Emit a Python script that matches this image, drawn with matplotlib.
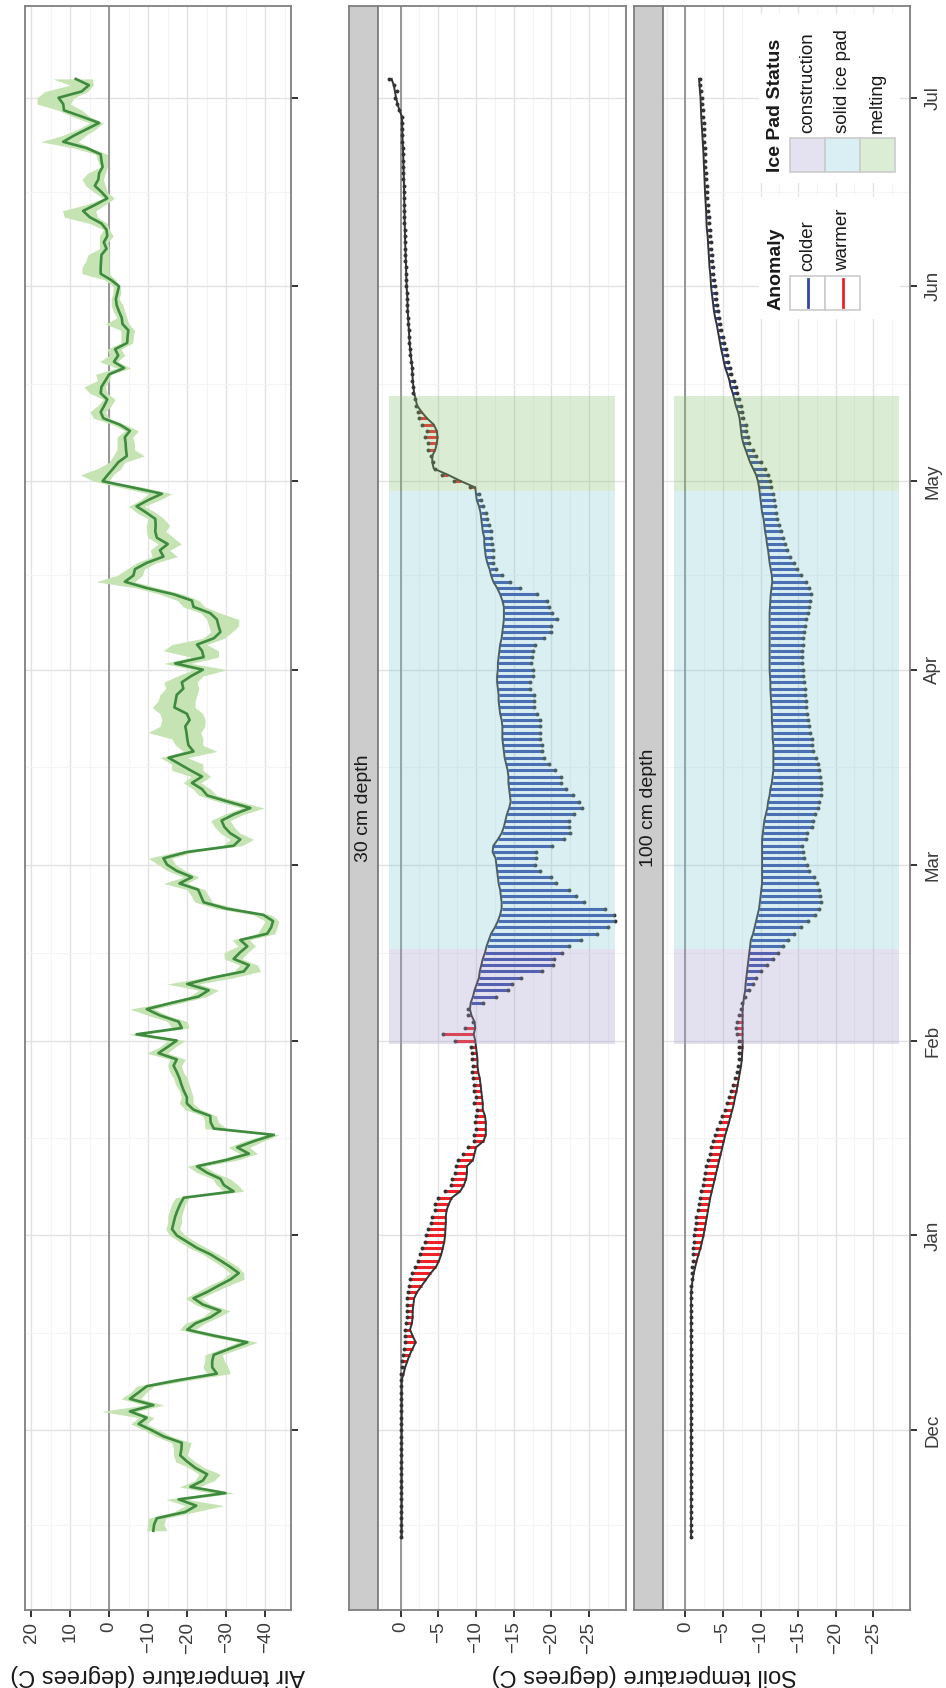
import numpy as np
import matplotlib
matplotlib.use("Agg")
import matplotlib.pyplot as plt
import matplotlib.dates as mdates
from matplotlib.collections import LineCollection
from matplotlib.colors import to_rgb
from matplotlib.patches import Rectangle
from matplotlib.lines import Line2D
from matplotlib.ticker import MultipleLocator, FixedLocator

plt.rcParams['font.family'] = ['Liberation Sans', 'DejaVu Sans']

# first day of each daily series
soil_start = '2013-11-14'
air_start = '2013-11-15'

# air temperature: daily mean with low/high band
air_mean = [
    -11.3, -11.5, -12.2, -19.5, -22.3, -17.8, -29.8, -20.8, -24.0, -25.1,
    -22.1, -20.0, -18.2, -18.5, -18.6, -14.0, -10.9, -7.5, -9.6, -5.3,
    -11.3, -5.3, -7.5, -9.6, -18.0, -27.6, -26.4, -26.4, -26.8, -31.0,
    -35.4, -27.2, -20.0, -22.1, -26.0, -28.5, -24.0, -21.6, -25.1, -28.0,
    -31.1, -33.2, -31.0, -28.5, -25.9, -22.5, -19.9, -17.3, -16.1, -16.5,
    -16.9, -17.5, -18.2, -19.1, -31.9, -29.4, -28.5, -25.0, -22.5, -30.0,
    -35.8, -32.8, -37.1, -42.2, -26.8, -26.0, -25.9, -21.6, -19.9, -19.9,
    -19.1, -18.5, -18.0, -17.3, -16.5, -17.3, -12.6, -15.0, -17.3, -7.0,
    -18.6, -17.8, -13.0, -9.6, -16.0, -22.9, -25.5, -20.0, -26.5, -34.5,
    -35.8, -31.9, -33.5, -35.4, -33.6, -40.5, -41.5, -42.0, -39.5, -30.0,
    -24.2, -23.5, -22.8, -18.0, -21.2, -17.3, -14.8, -13.9, -19.9, -31.9,
    -33.6, -31.0, -29.5, -28.8, -32.0, -36.2, -30.5, -25.1, -23.8, -21.2,
    -23.8, -20.8, -18.0, -15.2, -21.6, -20.3, -20.0, -19.8, -19.5, -20.6,
    -19.9, -16.7, -17.0, -17.3, -19.0, -18.6, -21.0, -24.0, -16.9, -24.2,
    -23.8, -22.5, -26.8, -28.5, -28.0, -27.6, -25.9, -21.6, -21.2, -16.5,
    -9.6, -4.0, -6.2, -6.6, -9.6, -13.9, -13.0, -15.0, -12.2, -11.8,
    -11.9, -11.8, -9.5, -7.0, -10.0, -13.5, -6.0, 1.7, 0.4, -1.0,
    -2.3, -4.5, -4.3, -4.2, -4.0, -5.3, -2.7, 1.5, 2.2, 1.3,
    0.5, 2.2, 2.0, 1.0, 0.0, -3.8, -1.2, -2.3, -1.5, -4.6,
    -4.7, -4.9, -3.4, -3.2, -2.5, -1.9, -1.7, -2.1, -2.5, -0.5,
    2.2, 2.2, 2.1, 2.0, 0.7, 1.4, 0.5, 0.7, 2.0, 5.0,
    6.7, 3.5, 0.5, 2.0, 3.7, 2.8, 2.6, 1.7, 2.0, 2.2,
    5.8, 11.8, 9.0, 5.8, 2.6, 7.0, 11.6, 11.8, 13.0, 7.1,
    5.2, 8.6,
]
air_high = [
    -9.6, -9.8, -10.0, -16.5, -19.5, -14.5, -26.0, -18.0, -22.0, -23.0,
    -20.5, -17.0, -16.5, -16.5, -16.0, -12.0, -9.0, -5.5, -7.5, 2.0,
    -9.0, -3.0, -5.5, -7.0, -15.0, -25.0, -24.0, -24.5, -24.5, -29.0,
    -33.0, -25.0, -18.0, -19.5, -24.0, -26.0, -22.0, -19.5, -22.5, -25.5,
    -29.0, -31.0, -29.0, -26.5, -24.0, -20.5, -18.0, -15.5, -14.5, -15.0,
    -15.0, -15.5, -16.0, -17.0, -29.5, -27.5, -26.5, -22.5, -20.0, -27.5,
    -33.5, -30.5, -34.5, -40.0, -24.5, -24.5, -24.0, -19.5, -18.0, -18.5,
    -18.0, -17.0, -16.5, -15.5, -15.0, -15.5, -9.6, -13.0, -15.0, -4.9,
    -16.0, -15.0, -10.0, -5.3, -14.0, -20.5, -23.0, -14.8, -24.0, -32.0,
    -33.5, -29.5, -29.4, -33.0, -31.5, -38.0, -39.0, -40.0, -37.0, -27.5,
    -22.0, -21.0, -20.0, -13.9, -19.0, -15.0, -12.5, -10.0, -17.0, -29.0,
    -31.0, -28.5, -27.0, -26.0, -29.5, -34.0, -28.0, -23.0, -21.5, -19.0,
    -21.0, -16.0, -16.0, -13.0, -19.0, -17.0, -16.0, -10.0, -13.0, -13.5,
    -13.0, -11.0, -12.5, -13.0, -14.5, -14.0, -17.5, -21.5, -14.0, -21.0,
    -13.9, -16.0, -24.0, -26.0, -25.5, -25.0, -23.5, -19.0, -17.5, -13.0,
    -7.0, 3.4, -2.0, -4.5, -7.0, -11.0, -10.5, -12.5, -10.0, -9.5,
    -9.5, -10.0, -7.0, -5.0, -8.0, -10.0, -3.0, 4.0, 7.4, 3.0,
    0.0, -1.0, -2.0, -2.0, -2.0, -4.0, -1.0, 4.0, 5.0, 3.0,
    1.5, 5.0, 6.5, 3.0, 3.5, -2.0, 2.5, 0.0, 0.5, -3.0,
    -3.0, -3.0, 1.0, -2.0, -1.0, -0.5, -0.5, -1.0, -1.0, 1.0,
    7.0, 7.0, 6.0, 5.5, 2.5, 2.5, 2.5, 1.5, 5.0, 11.5,
    12.0, 6.0, 1.5, 4.0, 6.0, 7.0, 5.5, 2.2, 3.0, 3.5,
    9.0, 17.5, 12.0, 8.0, 5.0, 9.5, 13.0, 18.5, 18.5, 16.5,
    10.0, 14.5,
]
air_low = [
    -14.8, -14.0, -14.5, -22.0, -29.4, -20.0, -32.0, -23.0, -27.0, -28.5,
    -24.5, -22.0, -20.0, -20.5, -21.0, -16.0, -13.0, -9.5, -11.5, -7.0,
    -14.0, -8.0, -9.5, -11.5, -21.0, -31.0, -30.5, -29.5, -29.0, -33.5,
    -38.0, -30.0, -22.0, -24.5, -28.0, -31.0, -26.0, -23.5, -27.0, -30.5,
    -34.5, -34.5, -33.0, -30.5, -28.0, -25.0, -22.0, -19.5, -18.0, -18.5,
    -18.5, -19.0, -19.5, -20.5, -34.5, -33.0, -31.0, -27.0, -24.5, -33.0,
    -38.0, -36.0, -39.5, -43.5, -30.0, -28.0, -27.5, -23.5, -21.5, -21.5,
    -21.0, -20.5, -20.0, -19.0, -18.5, -19.5, -15.0, -17.0, -19.5, -9.0,
    -20.5, -20.0, -15.0, -11.5, -18.5, -25.0, -28.0, -23.0, -31.9, -38.8,
    -38.0, -34.0, -35.5, -37.5, -36.0, -42.5, -43.0, -43.5, -41.5, -33.0,
    -26.5, -25.5, -24.5, -20.0, -23.0, -19.5, -17.0, -16.0, -22.0, -34.0,
    -37.0, -33.5, -32.0, -31.0, -34.5, -39.7, -33.5, -27.5, -26.0, -23.5,
    -26.0, -24.0, -24.0, -20.0, -27.6, -24.0, -24.0, -23.5, -24.5, -24.6,
    -24.0, -22.0, -22.0, -22.5, -23.0, -22.5, -24.0, -30.2, -21.0, -28.0,
    -28.0, -25.0, -29.5, -31.5, -33.2, -33.2, -28.5, -24.5, -23.0, -19.0,
    -12.5, -6.5, -8.5, -9.0, -12.0, -17.5, -15.5, -18.5, -16.5, -14.5,
    -15.5, -14.0, -12.0, -9.0, -13.0, -16.0, -9.0, 0.0, -1.0, -3.0,
    -4.0, -9.0, -6.5, -6.5, -6.0, -7.5, -4.0, 0.0, 1.0, -0.5,
    -1.5, 0.5, 1.0, 0.0, -0.5, -5.5, -2.0, -4.0, -3.0, -6.0,
    -6.2, -6.5, -5.0, -4.5, -4.0, -3.5, -2.5, -3.0, -2.8, -1.7,
    0.0, 0.0, 0.0, 0.0, 0.0, 0.3, -1.0, 0.0, 0.5, 3.0,
    3.5, 1.0, -1.3, 0.5, 1.0, 1.5, 1.0, 0.5, 0.5, 0.5,
    4.5, 8.0, 6.0, 3.5, 1.5, 5.0, 7.0, 10.0, 9.0, 5.5,
    4.1, 4.3,
]

# soil temperature, 30 cm depth: observed and long-term normal
soil30_obs = [
    # Nov 14-30
    -0.1, -0.1, -0.1, -0.1, -0.1, -0.1, -0.1, -0.1, -0.1, -0.1, -0.1, -0.1, -0.1, -0.1, -0.1, -0.1, -0.1,
    # Dec
    -0.1, -0.1, -0.1, -0.1, -0.1, -0.1, -0.1, -0.1, -0.05, -0.1, -0.15, -0.25, -0.3, -0.45, -0.55, -0.55,
    -0.55, -0.7, -0.8, -0.9, -0.8, -0.85, -1.0, -1.1, -1.25, -1.5, -1.9, -2.3, -2.6, -2.9, -3.2,
    # Jan
    -3.4, -3.7, -4.0, -4.2, -4.5, -4.6, -4.9, -5.9, -6.7, -6.8, -7.2, -7.3, -7.6, -8.3, -8.9, -9.7,
    -9.8, -10.0, -9.9, -10.0, -10.1, -9.8, -10.0, -9.8, -9.7, -9.6, -9.5, -9.6, -9.5, -9.5, -9.4,
    # Feb
    -7.2, -5.6, -8.6, -9.6, -8.9, -9.0, -10.9, -12.7, -14.2, -14.8, -16.0, -18.8, -20.2, -20.4,
    -21.4, -22.4, -23.9, -26.0, -27.5, -28.4, -28.3, -27.1, -24.3, -23.3, -22.4, -20.6, -19.9, -18.5,
    # Mar
    -17.8, -18.0, -18.0, -20.1, -21.7, -22.5, -22.4, -22.4, -23.0, -24.0, -23.6, -22.8, -22.0, -21.3,
    -21.3, -20.5, -19.7, -19.0, -18.8, -18.7, -18.5, -18.5, -18.5, -18.5, -18.1, -17.7, -17.7, -17.7,
    -17.2, -17.2, -17.6,
    # Apr
    -17.6, -17.3, -17.4, -17.6, -17.8, -19.0, -19.9, -20.0, -20.7, -20.1, -19.7, -19.4, -18.1, -15.8,
    -14.5, -13.4, -12.6, -12.3, -12.2, -12.2, -12.1, -12.0, -12.0, -11.7, -11.4, -11.3, -10.9, -10.6,
    -10.4, -9.2,
    # May
    -7.1, -5.5, -4.6, -4.3, -4.1, -3.7, -3.7, -3.2, -3.5, -2.9, -2.5, -2.3, -2.0, -1.85, -1.7, -1.6,
    -1.55, -1.5, -1.45, -1.4, -1.3, -1.2, -1.15, -1.1, -1.05, -1.0, -0.95, -0.9, -0.88, -0.85, -0.8,
    # Jun
    -0.75, -0.72, -0.7, -0.68, -0.65, -0.62, -0.6, -0.55, -0.53, -0.52, -0.5, -0.48, -0.46, -0.45,
    -0.43, -0.42, -0.4, -0.38, -0.37, -0.35, -0.33, -0.3, -0.27, -0.22, -0.2, -0.18, -0.16, -0.15,
    0.2, 0.45,
    # Jul 1-4
    0.7, 0.45, 0.9, 1.5,
]
soil30_norm = [
    -0.15, -0.15, -0.15, -0.15, -0.15, -0.15, -0.15, -0.15, -0.15, -0.15, -0.15, -0.15, -0.15, -0.15,
    -0.15, -0.15, -0.15,
    -0.15, -0.15, -0.15, -0.15, -0.15, -0.15, -0.15, -0.15, -0.15, -0.4, -0.6, -0.9, -1.2, -1.6, -2.0,
    -1.6, -1.25, -1.5, -1.6, -1.6, -1.7, -1.8, -2.2, -2.8, -3.4, -4.0, -4.7, -5.1, -5.4, -5.6, -5.8,
    -5.9, -5.95, -6.0, -6.0, -6.1, -6.4, -6.8, -7.9, -8.4, -8.7, -8.8, -8.8, -9.6, -9.8, -10.0, -11.0,
    -11.3, -11.3, -11.3, -11.2, -10.9, -10.9, -10.8, -10.7, -10.6, -10.5, -10.3, -10.2, -10.2, -10.1,
    -10.0,
    -9.9, -9.7, -9.9, -9.8, -9.4, -9.2, -9.3, -9.6, -9.8, -10.1, -10.4, -10.5, -10.7, -10.9, -11.2,
    -11.4, -11.7, -12.0, -12.5, -12.9, -13.2, -13.4, -13.4, -13.3, -13.2, -13.0, -12.9, -12.8,
    -12.7, -12.6, -12.2, -12.3, -12.9, -13.4, -13.7, -13.9, -14.1, -14.4, -14.6, -14.5, -14.4, -14.3,
    -14.3, -14.2, -14.0, -13.8, -13.7, -13.6, -13.5, -13.5, -13.5, -13.4, -13.2, -13.1, -13.0, -13.0,
    -12.9, -12.8, -12.8,
    -12.9, -12.9, -13.0, -13.1, -13.2, -13.4, -13.5, -13.6, -13.7, -13.7, -13.7, -13.5, -13.2, -12.8,
    -12.3, -12.0, -11.8, -11.5, -11.3, -11.2, -11.1, -11.1, -10.9, -10.8, -10.7, -10.6, -10.4, -10.1,
    -10.0, -9.9,
    -8.0, -6.3, -4.4, -4.2, -4.2, -4.6, -4.8, -4.9, -4.8, -4.4, -3.5, -2.8, -2.2, -2.0, -1.8, -1.7,
    -1.62, -1.57, -1.52, -1.45, -1.36, -1.26, -1.2, -1.15, -1.1, -1.05, -1.0, -0.95, -0.93, -0.9, -0.85,
    -0.8, -0.77, -0.75, -0.73, -0.7, -0.67, -0.65, -0.6, -0.58, -0.57, -0.55, -0.53, -0.51, -0.5,
    -0.48, -0.47, -0.45, -0.43, -0.42, -0.4, -0.38, -0.35, -0.32, -0.27, -0.25, -0.23, -0.21, -0.18,
    0.15, 0.4,
    0.6, 0.75, 0.9, 1.2,
]

# soil temperature, 100 cm depth
soil100_obs = [
    -0.7, -0.7, -0.7, -0.7, -0.7, -0.7, -0.7, -0.7, -0.7, -0.7, -0.7, -0.7, -0.7, -0.7, -0.7, -0.7, -0.7,
    -0.7, -0.7, -0.7, -0.7, -0.7, -0.7, -0.7, -0.7, -0.7, -0.7, -0.7, -0.7, -0.7, -0.7, -0.7, -0.7,
    -0.7, -0.7, -0.7, -0.7, -0.7, -0.7, -0.7, -0.75, -0.8, -0.85, -0.9, -0.95, -1.0, -1.05, -1.1,
    -1.15, -1.25, -1.35, -1.45, -1.6, -1.75, -1.9, -2.1, -2.3, -2.45, -2.6, -2.75, -2.95, -3.2, -3.45,
    -3.7, -3.95, -4.25, -4.55, -4.85, -5.2, -5.5, -5.8, -6.1, -6.35, -6.6, -6.8, -6.95, -7.1, -7.15,
    -7.1,
    -7.1, -6.9, -6.7, -6.8, -7.1, -7.4, -7.5, -7.95, -8.4, -9.0, -9.4, -10.0, -10.9, -11.7, -12.3,
    -13.0, -13.7, -14.5, -15.4, -16.3, -17.2, -17.8, -18.1, -17.95, -17.8, -17.5, -17.1, -16.5,
    -16.2, -15.8, -15.6, -15.5, -16.0, -16.2, -16.8, -17.0, -17.2, -17.6, -17.8, -18.1, -18.1, -18.1,
    -17.9, -17.8, -17.6, -17.4, -17.0, -16.9, -16.8, -16.6, -16.5, -16.3, -16.2, -16.1, -16.0, -15.95,
    -15.9, -15.8, -15.7,
    -15.6, -15.55, -15.55, -15.55, -15.6, -15.7, -15.8, -15.9, -16.1, -16.3, -16.5, -16.6, -16.7,
    -16.5, -16.0, -15.4, -14.8, -14.4, -13.9, -13.5, -13.3, -13.0, -12.7, -12.4, -12.2, -12.1, -11.95,
    -11.8, -11.6, -11.4,
    -11.2, -11.0, -10.6, -10.0, -9.4, -9.0, -8.5, -8.3, -8.1, -8.0, -7.7, -7.5, -7.4, -7.1, -6.9, -6.7,
    -6.4, -6.1, -5.9, -5.7, -5.5, -5.35, -5.15, -4.95, -4.75, -4.6, -4.45, -4.3, -4.2, -4.1, -4.0,
    -3.9, -3.8, -3.7, -3.6, -3.55, -3.5, -3.45, -3.35, -3.3, -3.2, -3.15, -3.1, -3.05, -2.95, -2.9,
    -2.85, -2.8, -2.75, -2.7, -2.65, -2.62, -2.6, -2.55, -2.5, -2.45, -2.42, -2.4, -2.35, -2.3, -2.2,
    -2.15, -2.05, -1.97, -1.9,
]
soil100_norm = [
    -0.75, -0.75, -0.75, -0.75, -0.75, -0.75, -0.75, -0.75, -0.75, -0.75, -0.75, -0.75, -0.75, -0.75,
    -0.75, -0.75, -0.75,
    -0.75, -0.75, -0.75, -0.75, -0.75, -0.75, -0.75, -0.75, -0.75, -0.75, -0.75, -0.75, -0.75, -0.75,
    -0.75, -0.75, -0.75, -0.75, -0.75, -0.75, -0.75, -0.75, -0.75, -0.85, -0.95, -1.1, -1.3, -1.5,
    -1.75, -2.0, -2.2,
    -2.4, -2.55, -2.7, -2.85, -3.0, -3.15, -3.3, -3.5, -3.7, -3.9, -4.1, -4.3, -4.5, -4.7, -4.9, -5.1,
    -5.3, -5.55, -5.8, -6.0, -6.25, -6.45, -6.6, -6.8, -6.95, -7.1, -7.25, -7.4, -7.5, -7.55, -7.6,
    -7.6, -7.6, -7.6, -7.6, -7.6, -7.6, -7.7, -7.8, -7.95, -8.0, -8.1, -8.2, -8.3, -8.4, -8.5, -8.6,
    -8.7, -9.0, -9.2, -9.4, -9.6, -9.8, -9.9, -10.0, -10.1, -10.2, -10.2, -10.2,
    -10.2, -10.2, -10.2, -10.2, -10.2, -10.3, -10.4, -10.5, -10.7, -10.9, -11.0, -11.2, -11.3, -11.5,
    -11.6, -11.7, -11.7, -11.7, -11.7, -11.7, -11.6, -11.6, -11.55, -11.5, -11.5, -11.45, -11.4,
    -11.35, -11.3, -11.3, -11.25,
    -11.2, -11.2, -11.2, -11.2, -11.2, -11.2, -11.2, -11.2, -11.2, -11.2, -11.25, -11.3, -11.35,
    -11.45, -11.55, -11.5, -11.35, -11.2, -11.1, -11.0, -10.85, -10.75, -10.6, -10.5, -10.4, -10.2,
    -10.1, -10.0, -9.9, -9.8,
    -9.65, -9.4, -9.0, -8.6, -8.3, -8.0, -7.7, -7.5, -7.4, -7.3, -7.2, -7.0, -6.7, -6.5, -6.3, -6.0,
    -5.85, -5.6, -5.3, -5.1, -4.95, -4.75, -4.6, -4.45, -4.3, -4.15, -3.95, -3.8, -3.7, -3.6, -3.5,
    -3.4, -3.35, -3.3, -3.2, -3.15, -3.1, -3.05, -3.0, -2.95, -2.85, -2.8, -2.78, -2.75, -2.7, -2.65,
    -2.6, -2.57, -2.54, -2.5, -2.46, -2.43, -2.4, -2.35, -2.3, -2.25, -2.2, -2.15, -2.1, -2.07, -2.03,
    -2.0, -1.93, -1.87, -1.8,
]

# ice pad periods (first and last day)
status_names = ['construction', 'solid ice pad', 'melting']
status_first = ['2014-02-01', '2014-02-16', '2014-04-30']
status_last = ['2014-02-15', '2014-04-29', '2014-05-14']
status_colors = ['#A59ECD', '#84CAD7', '#8AC376']
status_alpha = 0.3

anomaly_names = ['colder', 'warmer']
anomaly_colors = ['#3148A4', '#EE2028']

W, H = 946, 1688
fig = plt.figure(figsize=(W / 100, H / 100), dpi=100)


def box(x0, y0, x1, y1):
    return [x0 / W, 1 - y1 / H, (x1 - x0) / W, (y1 - y0) / H]


soil_t = mdates.date2num(np.datetime64(soil_start) + np.arange(len(soil30_obs)))
air_t = mdates.date2num(np.datetime64(air_start) + np.arange(len(air_mean)))

t0, t1 = min(soil_t[0], air_t[0]), max(soil_t[-1], air_t[-1])
t_pad = 0.05 * (t1 - t0)
t_lim = (t0 - t_pad, t1 + t_pad)

bounds = mdates.date2num(np.arange('2013-11', '2014-08', dtype='datetime64[M]').astype('datetime64[D]'))
month_major = bounds[1:]
month_minor = (bounds[:-1] + bounds[1:]) / 2

soil_all = np.concatenate([soil30_obs, soil30_norm, soil100_obs, soil100_norm])
s_lo, s_hi = soil_all.min(), soil_all.max()
s_pad = 0.05 * (s_hi - s_lo)
soil_lim = (s_hi + s_pad, s_lo - s_pad)

a_lo, a_hi = min(air_low), max(air_high)
a_pad = 0.05 * (a_hi - a_lo)
air_lim = (a_hi + a_pad, a_lo - a_pad)


def style_panel(ax, xmaj, xmin):
    for s in ax.spines.values():
        s.set_color('#7F7F7F')
        s.set_linewidth(1.3)
    ax.xaxis.set_major_locator(MultipleLocator(xmaj))
    ax.xaxis.set_minor_locator(MultipleLocator(xmin))
    ax.yaxis.set_major_locator(FixedLocator(month_major))
    ax.yaxis.set_minor_locator(FixedLocator(month_minor))
    ax.grid(which='major', color='#E2E2E2', lw=1.0)
    ax.grid(which='minor', color='#F4F4F4', lw=0.8)
    ax.set_axisbelow(True)
    ax.tick_params(which='minor', length=0)
    ax.tick_params(which='major', color='#333333', width=1.4, length=4.8,
                   labelsize=13.5, labelcolor='#3C3C3C')
    ax.tick_params(axis='x', labelrotation=90, pad=3.5)
    ax.yaxis.tick_right()
    ax.tick_params(axis='y', labelright=False, pad=5.5)
    ax.axvline(0, color='#8F8F8F', lw=1.3, zorder=1)


# air temperature panel
ax_air = fig.add_axes(box(25, 6, 291, 1610))
ax_air.fill_betweenx(air_t, air_low, air_high, color='#C5E3B3', lw=0, zorder=2)
ax_air.plot(air_mean, air_t, color='#3E8A3E', lw=1.9, zorder=3)
style_panel(ax_air, 10, 5)
ax_air.set_xlim(air_lim)
ax_air.set_ylim(t_lim)


def soil_panel(ax, obs, norm):
    obs = np.asarray(obs)
    norm = np.asarray(norm)
    segs = np.stack([np.column_stack([norm, soil_t]), np.column_stack([obs, soil_t])], axis=1)
    cols = [anomaly_colors[0] if o < n else anomaly_colors[1] for o, n in zip(obs, norm)]
    ax.add_collection(LineCollection(segs, colors=cols, linewidths=2.2, capstyle='butt', zorder=2))
    ax.plot(norm, soil_t, color='#333333', lw=1.4, zorder=3)
    ax.scatter(obs, soil_t, s=8, color='#333333', lw=0, zorder=4)
    for first, last, c in zip(status_first, status_last, status_colors):
        a = mdates.date2num(np.datetime64(first)) - 0.5
        b = mdates.date2num(np.datetime64(last)) + 0.5
        ax.fill_betweenx([a, b], s_hi, s_lo, color=c, alpha=status_alpha, lw=0, zorder=5)
    style_panel(ax, 5, 2.5)
    ax.set_xlim(soil_lim)
    ax.set_ylim(t_lim)


def strip(rect, label):
    s = fig.add_axes(rect)
    s.set_facecolor('#CCCCCC')
    s.set_xticks([])
    s.set_yticks([])
    for sp in s.spines.values():
        sp.set_color('#7F7F7F')
        sp.set_linewidth(1.3)
    s.text(0.5, 0.5, label, rotation=90, ha='center', va='center',
           transform=s.transAxes, fontsize=14, color='#1A1A1A')


strip(box(349, 6, 378, 1610), '30 cm depth')
ax30 = fig.add_axes(box(378, 6, 626, 1610))
soil_panel(ax30, soil30_obs, soil30_norm)

strip(box(634, 6, 663, 1610), '100 cm depth')
ax100 = fig.add_axes(box(663, 6, 910, 1610))
soil_panel(ax100, soil100_obs, soil100_norm)
ax100.yaxis.set_major_formatter(mdates.DateFormatter('%b'))
ax100.tick_params(axis='y', labelright=True, labelrotation=90)
for lab in ax100.get_yticklabels():
    lab.set_va('center')

ax30.tick_params(axis='y', length=0)

# axis titles
fig.text(158 / W, 1 - 1675 / H, 'Air temperature (degrees C)', rotation=180,
         ha='center', va='center', fontsize=17, color='#1A1A1A')
fig.text(644 / W, 1 - 1675 / H, 'Soil temperature (degrees C)', rotation=180,
         ha='center', va='center', fontsize=17, color='#1A1A1A')


# legends, drawn in figure pixels
def fig_rect(x0, y0, x1, y1, **kw):
    fig.add_artist(Rectangle((x0 / W, 1 - y1 / H), (x1 - x0) / W, (y1 - y0) / H,
                             transform=fig.transFigure, **kw))


def blend(c):
    return tuple(1 - status_alpha * (1 - np.array(to_rgb(c))))


fig_rect(759, 14, 900, 183, facecolor='white', edgecolor='none', zorder=10)
fig_rect(759, 197, 900, 319, facecolor='white', edgecolor='none', zorder=10)

fig.text(775 / W, 1 - 172 / H, 'Ice Pad Status', rotation=90, ha='center', va='bottom',
         fontsize=14, fontweight='bold', color='#1A1A1A', zorder=12)
key_x = [790, 825, 860, 895]
for i, (name, c) in enumerate(zip(status_names, status_colors)):
    fig_rect(key_x[i], 138, key_x[i + 1], 172, facecolor=blend(c), edgecolor='#CCCCCC',
             lw=1.2, zorder=11)
    fig.text((key_x[i] + 17.5) / W, 1 - 133 / H, name, rotation=90, ha='center', va='bottom',
             fontsize=13.5, color='#1A1A1A', zorder=12)

fig.text(776 / W, 1 - 310 / H, 'Anomaly', rotation=90, ha='center', va='bottom',
         fontsize=14, fontweight='bold', color='#1A1A1A', zorder=12)
for i, (name, c) in enumerate(zip(anomaly_names, anomaly_colors)):
    fig_rect(key_x[i], 276, key_x[i + 1], 310, facecolor='white', edgecolor='#CCCCCC',
             lw=1.2, zorder=11)
    xm = (key_x[i] + 17.5) / W
    fig.add_artist(Line2D([xm, xm], [1 - 279 / H, 1 - 307 / H], color=c, lw=2,
                          transform=fig.transFigure, zorder=12))
    fig.text(xm, 1 - 271 / H, name, rotation=90, ha='center', va='bottom',
             fontsize=13.5, color='#1A1A1A', zorder=12)

fig.savefig('out.png', dpi=100)
